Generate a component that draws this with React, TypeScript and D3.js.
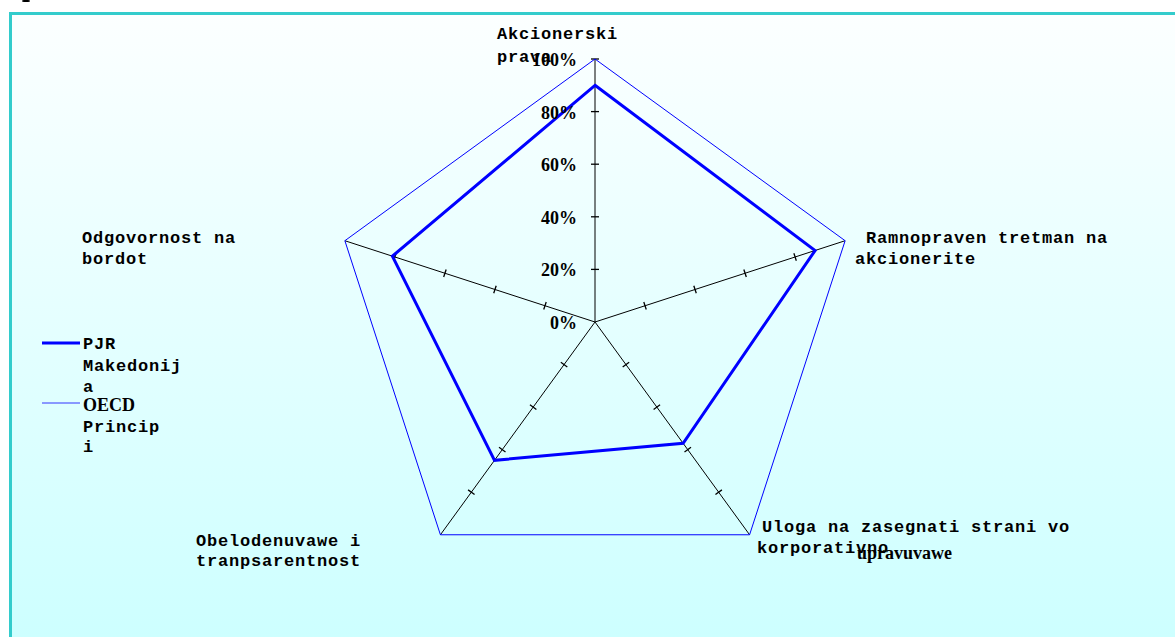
import { useEffect, useRef } from 'react';
import * as d3 from 'd3';

const categories = [
  ['Akcionerski', 'prava'],
  [' Ramnopraven tretman na', 'akcionerite'],
  ['Uloga na zasegnati strani vo', 'korporativno'],
  ['Obelodenuvawe i', 'tranpsarentnost'],
  ['Odgovornost na', 'bordot'],
];
const pjrValues = [0.9, 0.88, 0.57, 0.65, 0.81];
const oecdValues = [1, 1, 1, 1, 1];
const tickValues = [0, 0.2, 0.4, 0.6, 0.8, 1];
const tickLabels = ['0%', '20%', '40%', '60%', '80%', '100%'];

const W = 1175;
const H = 637;
const MONO = '"Liberation Mono", "Courier New", monospace';
const SERIF = '"Liberation Serif", "Times New Roman", serif';

export default function App() {
  const svgRef = useRef<SVGSVGElement>(null);

  useEffect(() => {
    if (!svgRef.current) return;
    const svg = d3.select(svgRef.current);
    svg.selectAll('*').remove();

    const cx = 595;
    const cy = 322;
    const r = d3.scaleLinear().domain([0, 1]).range([0, 263]);
    const n = categories.length;
    const angle = (i: number) => (i * 2 * Math.PI) / n;
    const pt = (i: number, v: number): [number, number] => [
      cx + r(v) * Math.sin(angle(i)),
      cy - r(v) * Math.cos(angle(i)),
    ];

    // background frame
    const defs = svg.append('defs');
    const grad = defs.append('linearGradient')
      .attr('id', 'bg').attr('x1', 0).attr('y1', 0).attr('x2', 0).attr('y2', 1);
    grad.append('stop').attr('offset', '0%').attr('stop-color', '#FCFFFF');
    grad.append('stop').attr('offset', '100%').attr('stop-color', '#CCFFFF');

    svg.append('rect').attr('x', 0).attr('y', 0).attr('width', W).attr('height', H).attr('fill', '#fff');
    svg.append('rect').attr('x', 22).attr('y', 0).attr('width', 8).attr('height', 2).attr('rx', 2).attr('fill', '#000');
    svg.append('rect')
      .attr('x', 10.5).attr('y', 13.5).attr('width', W).attr('height', H)
      .attr('fill', 'url(#bg)').attr('stroke', '#33CCCC').attr('stroke-width', 3);

    const g = svg.append('g');

    // axes
    categories.forEach((_, i) => {
      const [x, y] = pt(i, 1);
      g.append('line').attr('x1', cx).attr('y1', cy).attr('x2', x).attr('y2', y)
        .attr('stroke', '#000').attr('stroke-width', 1);
      const a = angle(i);
      const ticks = i === 0 ? tickValues.slice(1) : tickValues.slice(1, -1);
      ticks.forEach(t => {
        const [tx, ty] = pt(i, t);
        const dx = Math.cos(a) * 4;
        const dy = Math.sin(a) * 4;
        g.append('line')
          .attr('x1', tx - dx).attr('y1', ty - dy).attr('x2', tx + dx).attr('y2', ty + dy)
          .attr('stroke', '#000').attr('stroke-width', 1.3);
      });
    });

    const line = d3.line<[number, number]>().curve(d3.curveLinearClosed);

    g.append('path')
      .attr('d', line(oecdValues.map((v, i) => pt(i, v))))
      .attr('fill', 'none').attr('stroke', '#0000FF').attr('stroke-width', 1);

    g.append('path')
      .attr('d', line(pjrValues.map((v, i) => pt(i, v))))
      .attr('fill', 'none').attr('stroke', '#0000FF').attr('stroke-width', 3)
      .attr('stroke-linejoin', 'miter');

    const monoText = (sel: d3.Selection<any, any, any, any>, x: number, y: number, t: string) =>
      sel.append('text').attr('x', x).attr('y', y)
        .attr('font-family', MONO).attr('font-weight', 'bold').attr('font-size', 17)
        .attr('letter-spacing', 0.8)
        .style('white-space', 'pre')
        .attr('fill', '#000').text(t);

    // category labels
    const labelPos = [
      { x: 497, y: 39, dy: 23 },
      { x: 855, y: 243, dy: 21 },
      { x: 757, y: 532, dy: 21 },
      { x: 196, y: 546, dy: 20 },
      { x: 82, y: 243, dy: 21 },
    ];
    categories.forEach((lines, i) => {
      const p = labelPos[i];
      lines.forEach((txt, j) => {
        monoText(g, p.x + (i === 2 && j === 0 ? 5 : 0), p.y + j * p.dy, txt);
      });
    });
    g.append('text').attr('x', 857).attr('y', 559)
      .attr('font-family', SERIF).attr('font-weight', 'bold').attr('font-size', 18)
      .attr('fill', '#000').text('upravuvawe');

    // tick labels
    tickValues.forEach((t, k) => {
      const [, ty] = pt(0, t);
      g.append('text').attr('x', 577).attr('y', ty + 7)
        .attr('text-anchor', 'end')
        .attr('font-family', SERIF).attr('font-weight', 'bold').attr('font-size', 18)
        .attr('fill', '#000').text(tickLabels[k]);
    });

    // legend
    const lg = g.append('g');
    lg.append('line').attr('x1', 42).attr('x2', 80).attr('y1', 343).attr('y2', 343)
      .attr('stroke', '#0000FF').attr('stroke-width', 3);
    ['PJR', 'Makedonij', 'a'].forEach((t, j) => monoText(lg, 83, 349 + j * 21.5, t));
    lg.append('line').attr('x1', 42).attr('x2', 80).attr('y1', 403).attr('y2', 403)
      .attr('stroke', '#3333FF').attr('stroke-width', 1);
    lg.append('text').attr('x', 83).attr('y', 411)
      .attr('font-family', SERIF).attr('font-weight', 'bold').attr('font-size', 18)
      .attr('fill', '#000').text('OECD');
    ['Princip', 'i'].forEach((t, j) => monoText(lg, 83, 432 + j * 19.5, t));
  }, []);

  return (
    <div style={{ position: 'fixed', left: 0, top: 0 }}>
      <svg ref={svgRef} width={W} height={H} style={{ display: 'block' }} />
    </div>
  );
}
